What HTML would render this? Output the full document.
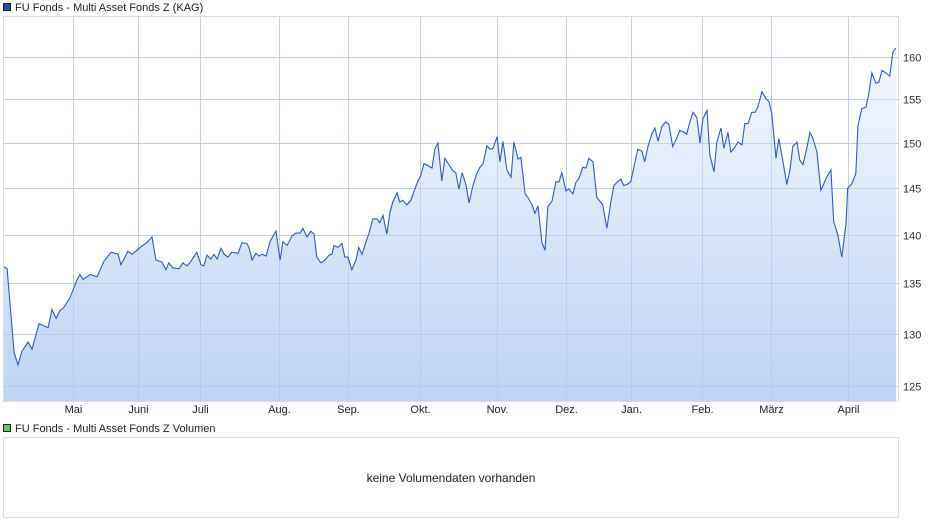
<!DOCTYPE html>
<html><head><meta charset="utf-8">
<style>
html,body{margin:0;padding:0;background:#fff;}
svg{display:block;font-family:"Liberation Sans",sans-serif;}
</style></head>
<body>
<svg id="chart" width="940" height="526" viewBox="0 0 940 526" xmlns="http://www.w3.org/2000/svg">
<defs>
<linearGradient id="fillGrad" x1="0" y1="0" x2="0" y2="1">
<stop offset="0" stop-color="#f4f8fe"/>
<stop offset="1" stop-color="#b8cff5"/>
</linearGradient>
</defs>
<g>
<rect x="3.5" y="3.5" width="7" height="7" fill="#1f54b8" stroke="#222" stroke-width="1"/>
<text x="15" y="11" font-size="11" fill="#222">FU Fonds - Multi Asset Fonds Z (KAG)</text>
</g>
<rect x="3.5" y="16.5" width="895" height="385" fill="#fff" stroke="#ddd"/>
<g id="grid"></g>
<text x="448" y="212" font-size="26" font-weight="bold" font-style="italic" fill="#e8e8e8" fill-opacity="0.55" text-anchor="middle">ARIVA.DE</text>
<path id="area" fill="url(#fillGrad)" fill-opacity="0.92"/>
<g id="grid2"></g>
<path id="line" fill="none" stroke="#2a5cc0" stroke-width="1.1"/>
<g id="yaxis"></g>
<g id="xaxis"></g>
<g>
<rect x="3.5" y="424.5" width="7" height="7" fill="#5fce5f" stroke="#222" stroke-width="1"/>
<text x="15" y="432" font-size="11" fill="#222">FU Fonds - Multi Asset Fonds Z Volumen</text>
</g>
<rect x="3.5" y="437.5" width="895" height="80" fill="#fff" stroke="#ddd"/>
<text x="451" y="482" font-size="12" fill="#222" text-anchor="middle">keine Volumendaten vorhanden</text>
</svg>
<script>
const tradingDays = [0,0.9,2.9,4,5.1,6.9,8,10,12.6,13.7,14.9,16,16.9,18.9,20.9,21.7,22.6,24.6,26.6,28.6,30.6,32.6,33.4,35.4,36.6,38.9,41.1,42.3,43.4,45.1,46.3,47.1,48.3,50,51.1,52.3,53.1,55.1,56.3,57.1,58,59.1,60,60.9,62,62.9,64,65.1,66.9,68,69.4,70,70.9,72,72.9,73.7,74.9,76,77.7,78.9,79.7,80.9,82.3,83.4,84.6,
85.4,86.6,87.7,88.6,89.4,90.6,91.7,92.9,93.7,94.3,95.4,96.6,97.4,98.3,99.4,100.6,101.4,102.3,103.4,104.3,105.4,106.6,107.4,108.3,109.4,110.3,111.1,112.3,113.1,114,115.1,116.3,117.1,118.3,119.1,120,121.1,122.3,123.1,124,125.1,126,127.1,128.3,129.1,130,130.9,132,132.9,134,135.1,136,136.9,138,138.9,139.7,140.9,141.7,142.6,143.7,144.9,145.7,146.9,147.7,148.9,149.7,150.9,151.7,152.6,153.7,154.6,155.4,156.6,157.7,158.6,159.4,160.6,161.4,162.6,163.4,164.3,165.4,166.3,167.1,
168.3,169.4,170.3,171.1,172.3,173.4,174.3,175.1,176.3,177.1,178,179.1,180,181.1,182.3,183.1,184,185.1,186,186.9,188,189.1,190,191.1,192.3,193.1,194,195.1,196,196.9,198,198.9,199.7,200.9,201.7,202.9,203.7,204.9,205.7,206.9,207.7,208.6,209.7,210.9,211.7,212.6,213.7,214.6,215.4,216.6,217.7,218.6,219.4,220.6,221.4,222.6,223.7,224.6,225.4,226.6,227.4,228.3,229.4,230.3,231.1,232.3,233.4,234.3,235.1,236.3,237.1,238.3,239.4,240.6,241.1,242.3,243.4,244,245.1,246.3,247.1,248,249.1,250,250.9,252,253.1,254,254.9];
const prices = [136.7,136.5,128.2,127.0,128.3,129.2,128.5,131.0,130.6,132.4,131.5,132.3,132.5,133.6,135.4,135.9,135.4,135.9,135.7,137.3,138.2,138.0,136.9,138.3,138.0,138.7,139.3,139.8,137.4,137.2,136.4,137.1,136.6,136.5,137.1,136.8,137.1,138.2,136.9,136.8,137.9,137.5,138.0,137.5,138.6,138.0,137.7,138.2,138.1,139.2,139.1,138.7,137.4,138.1,137.8,138.0,137.8,139.3,140.4,137.4,139.3,138.9,139.9,140.2,140.2,
140.7,139.8,140.4,140.1,137.7,137.1,137.4,137.9,138.0,138.9,138.7,139.1,137.7,137.7,136.4,137.4,138.7,138.0,139.2,140.2,141.7,141.7,141.3,142.1,140.1,142.4,143.5,144.5,143.5,143.7,143.2,143.7,144.6,145.8,146.4,147.7,147.5,147.2,149.3,150.0,145.8,148.3,147.6,146.9,146.7,144.9,146.7,145.4,143.4,145.3,146.6,147.3,147.7,149.7,149.3,149.4,150.7,147.9,150.2,147.0,146.2,150.1,148.2,148.4,144.4,144.0,143.2,142.3,143.1,139.2,138.4,143.0,143.6,145.7,145.7,146.7,144.7,144.9,144.4,145.6,146.1,147.3,147.2,148.3,
147.9,144.0,143.6,143.2,140.7,143.5,145.3,145.6,146.0,145.3,145.4,145.7,147.3,149.3,149.1,147.9,149.6,151.0,151.7,150.2,151.9,152.4,152.1,149.6,150.6,151.4,151.3,151.0,152.4,153.5,152.9,150.0,152.7,153.7,148.7,146.8,150.1,151.7,149.4,151.2,149.0,149.4,150.1,149.8,152.2,152.2,153.5,153.5,154.1,155.9,155.1,154.7,153.3,148.3,150.5,147.9,145.4,147.0,149.6,150.1,148.1,147.6,149.4,151.2,150.6,149.0,144.8,145.5,146.2,147.0,141.4,140.0,137.7,141.2,145.0,145.5,146.6,151.9,153.9,154.1,155.6,158.1,156.9,157.0,158.4,158.1,157.7,160.6,161.1];
const yTicks = [125,130,135,140,145,150,155,160];
const monthLabels = ["Mai","Juni","Juli","Aug.","Sep.","Okt.","Nov.","Dez.","Jan.","Feb.","März","April"];
const monthStartDay = [19.7,38.3,56,78.6,98.3,118.9,140.9,160.6,179.1,199.4,219.1,241.1];

const NS="http://www.w3.org/2000/svg";
const X0=4, X1=896, YB=401;
const dayMax = tradingDays[tradingDays.length-1];
function xScale(d){return X0+(X1-X0)*d/dayMax;}
function yScale(v){return 57+1333*Math.log(160/v);}

const grid=document.getElementById('grid'), grid2=document.getElementById('grid2');
const yaxis=document.getElementById('yaxis'), xaxis=document.getElementById('xaxis');
yTicks.forEach(t=>{
  const y=Math.round(yScale(t))+0.5;
  [grid,grid2].forEach((g,k)=>{
    const l=document.createElementNS(NS,'line');
    
    
    l.setAttribute('x1',3.5);l.setAttribute('x2',898.5);l.setAttribute('y1',y);l.setAttribute('y2',y);
    l.setAttribute('stroke',k?'#aac0e6':'#ddd');l.setAttribute('stroke-opacity',k?0.5:1);
    g.appendChild(l);
  });
  const tx=document.createElementNS(NS,'text');
  
  
  tx.setAttribute('x',903);tx.setAttribute('y',y+4);tx.setAttribute('font-size','11');tx.setAttribute('fill','#333');
  tx.textContent=t;yaxis.appendChild(tx);
});
monthLabels.forEach((m,k)=>{
  const x=Math.round(xScale(monthStartDay[k]))+0.5;
  [grid,grid2].forEach((g,j)=>{
    const l=document.createElementNS(NS,'line');
    
    
    l.setAttribute('x1',x);l.setAttribute('x2',x);l.setAttribute('y1',16.5);l.setAttribute('y2',401.5);
    l.setAttribute('stroke',j?'#aac0e6':'#ddd');l.setAttribute('stroke-opacity',j?0.5:1);
    g.appendChild(l);
  });
  const tx=document.createElementNS(NS,'text');
  
  
  tx.setAttribute('x',x);tx.setAttribute('y',413);tx.setAttribute('font-size','11');tx.setAttribute('fill','#222');tx.setAttribute('text-anchor','middle');
  tx.textContent=m;xaxis.appendChild(tx);
});
let d='';
prices.forEach((v,i)=>{d+=(i?'L':'M')+xScale(tradingDays[i]).toFixed(1)+','+yScale(v).toFixed(1);});
document.getElementById('line').setAttribute('d',d);
document.getElementById('area').setAttribute('d',d+'L'+X1+','+YB+'L'+X0+','+YB+'Z');
</script>
</body></html>
